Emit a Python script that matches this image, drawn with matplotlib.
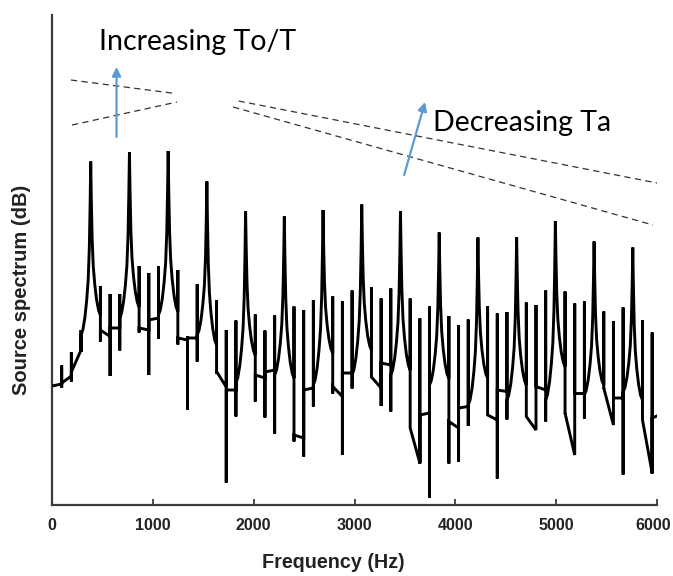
import matplotlib
matplotlib.use("Agg")
import matplotlib.pyplot as plt
from matplotlib.transforms import ScaledTranslation

# Harmonic peaks of the source spectrum (Hz, dB)
harmonic_hz = [384, 768, 1152, 1536, 1920, 2304, 2688, 3072, 3456, 3840,
               4224, 4608, 4992, 5376, 5760]
harmonic_db = [68.7, 70.5, 70.8, 64.7, 58.7, 57.7, 59.0, 60.1, 58.8, 54.5,
               53.5, 53.5, 56.8, 52.7, 51.5]

# Narrow spikes between the harmonics (quarter-harmonic positions)
spike_hz = [96, 192, 288, 480, 576, 672, 864, 960, 1056, 1248, 1344, 1440,
            1632, 1728, 1824, 2016, 2112, 2208, 2400, 2496, 2592,
            2784, 2880, 2976, 3168, 3264, 3360, 3552, 3648, 3744,
            3936, 4032, 4128, 4320, 4416, 4512, 4704, 4800, 4896,
            5088, 5184, 5280, 5472, 5568, 5664, 5856, 5952]
# level where the trace arrives at the spike
spike_in_db = [24.2, 25.8, 31.0, 38.0, 33.7, 35.4, 39.6, 35.0, 37.4,
               38.7, 33.0, 33.4, 32.0, 23.6, 23.0, 30.0, 25.4, 27.0,
               25.4, 13.4, 23.4, 30.4, 21.7, 26.4, 31.0, 23.4, 28.0,
               27.0, 8.4, 18.4, 25.3, 15.4, 19.7, 25.4, 17.0, 22.7,
               24.0, 15.0, 23.0, 27.7, 10.0, 22.3, 24.0, 16.0, 21.4,
               21.0, 6.4]
# spike top
spike_hi_db = [27.9, 30.5, 35.0, 43.8, 42.2, 42.2, 47.8, 46.4, 47.7,
               47.0, 33.8, 44.2, 40.9, 35.0, 36.9, 38.1, 34.9, 37.9,
               39.7, 39.0, 41.0, 41.7, 40.7, 42.9, 43.5, 41.3, 43.3,
               41.3, 37.3, 39.7, 37.8, 36.0, 37.1, 39.7, 38.3, 38.6,
               40.5, 40.0, 42.9, 42.7, 40.3, 40.7, 38.7, 36.8, 39.5,
               37.0, 34.5]
# spike bottom
spike_lo_db = [23.5, 24.7, 30.6, 32.7, 25.8, 30.9, 34.5, 26.0, 33.2,
               32.1, 19.1, 28.7, 26.3, 4.5, 17.7, 20.7, 17.5, 14.3,
               12.7, 9.7, 19.7, 22.3, 10.0, 23.3, 25.5, 19.8, 18.7,
               15.4, 8.3, 1.5, 8.3, 8.7, 15.8, 18.5, 5.3, 17.1,
               17.8, 15.0, 16.7, 18.3, 10.0, 17.3, 23.3, 16.0, 6.1,
               20.3, 6.3]
# level where the trace leaves the spike
spike_out_db = [24.4, 26.6, 34.0, 35.0, 35.4, 37.4, 35.4, 37.0, 38.0,
                33.4, 33.4, 34.0, 26.7, 23.0, 24.4, 26.0, 26.6, 26.0,
                14.0, 23.0, 24.0, 23.7, 26.4, 26.0, 25.6, 28.4, 26.0,
                15.4, 18.0, 24.0, 16.7, 19.4, 20.0, 18.0, 23.0, 21.0,
                17.7, 23.7, 21.0, 18.4, 22.3, 22.0, 23.4, 21.4, 22.6,
                17.0, 17.4]

start_db = 23.8
end_hz, end_db = 6000, 17.8

# Profile of a harmonic peak: distance from the peak and share of the drop
peak_offset_hz = [6, 14, 25, 40, 58, 78]
peak_drop_frac = [0.25, 0.5, 0.68, 0.8, 0.9, 0.97]

x_ticks = [0, 1000, 2000, 3000, 4000, 5000, 6000]


def peak_points(fc, top, left, right):
    fs, ls = [], []
    for off, fr in zip(peak_offset_hz[::-1], peak_drop_frac[::-1]):
        fs.append(fc - off)
        ls.append(top - fr * (top - left))
    fs.append(fc)
    ls.append(top)
    for off, fr in zip(peak_offset_hz, peak_drop_frac):
        fs.append(fc + off)
        ls.append(top - fr * (top - right))
    return fs, ls


freq = [0.0]
level = [start_db]
prev_out = start_db
h = 0
for i, f in enumerate(spike_hz):
    while h < len(harmonic_hz) and harmonic_hz[h] < f:
        pf, pl = peak_points(harmonic_hz[h], harmonic_db[h], prev_out, spike_in_db[i])
        freq += pf
        level += pl
        h += 1
    freq += [f, f, f, f]
    level += [spike_in_db[i], spike_hi_db[i], spike_lo_db[i], spike_out_db[i]]
    prev_out = spike_out_db[i]
freq.append(end_hz)
level.append(end_db)

W, H = 673, 576
fig = plt.figure(figsize=(W / 100, H / 100), dpi=100)
ax = fig.add_axes([52 / W, 1 - 505 / H, (657 - 52) / W, (505 - 15) / H])

ax.plot(freq, level, color="black", lw=2.1, solid_joinstyle="miter", zorder=3)

ax.set_xlim(0, 6000)
ax.set_ylim(0, 98)

spine_color = "#3c3c3c"
for side in ("top", "right"):
    ax.spines[side].set_visible(False)
for side in ("left", "bottom"):
    ax.spines[side].set_color(spine_color)
    ax.spines[side].set_linewidth(1.6)

tick_font = ["Liberation Sans Narrow", "Liberation Sans"]
ax.set_xticks(x_ticks)
ax.set_xticklabels([str(t) for t in x_ticks], fontfamily=tick_font,
                   fontweight="bold", fontsize=11.5, color="#222222")
ax.tick_params(axis="x", direction="in", length=4.5, width=1.3,
               color=spine_color, pad=9)
ax.set_yticks([])
last = ax.get_xticklabels()[-1]
last.set_transform(last.get_transform() + ScaledTranslation(-4 / 100, 0, fig.dpi_scale_trans))

fig.text(333 / W, 1 - 562 / H, "Frequency (Hz)", ha="center", va="center",
         fontfamily=tick_font, fontweight="bold", fontsize=14.2, color="#222222")
fig.text(22 / W, 1 - 290 / H, "Source spectrum (dB)", ha="center", va="center",
         rotation=90, fontfamily=tick_font, fontweight="bold", fontsize=14.5,
         color="#222222")

# Dashed spectral-tilt guides
dash = dict(color="#333333", lw=0.9, ls=(0, (5, 3.5)), zorder=2)
ax.plot([188, 1220], [85.0, 82.3], **dash)
ax.plot([198, 1240], [76.0, 80.6], **dash)
ax.plot([1851, 6000], [80.8, 64.4], **dash)
ax.plot([1796, 5960], [79.6, 56.0], **dash)

arrow = dict(arrowstyle="-|>", color="#5B9BD5", lw=1.6, mutation_scale=13,
             shrinkA=0, shrinkB=0)
ax.annotate("", xy=(640, 87.6), xytext=(640, 73.6), arrowprops=arrow)
ax.annotate("", xy=(3700, 80.6), xytext=(3492, 66.0), arrowprops=arrow)

ax.text(466, 92.6, "Increasing To/T", ha="left", va="center",
        fontfamily="Lato", fontsize=20.5, color="black")
ax.text(3780, 76.3, "Decreasing Ta", ha="left", va="center",
        fontfamily="Lato", fontsize=20.5, color="black")

fig.savefig("out.png", dpi=100)
